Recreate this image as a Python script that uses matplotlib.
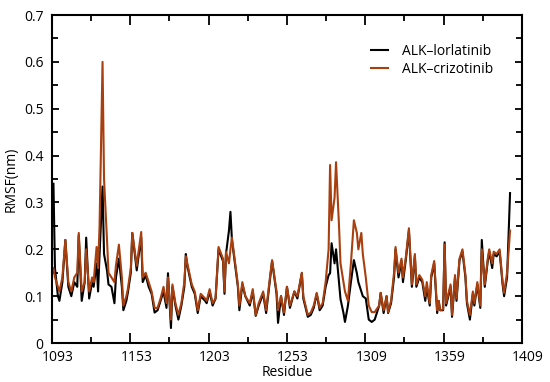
import matplotlib
matplotlib.use("Agg")
import matplotlib.pyplot as plt
import matplotlib.transforms as mtransforms
import numpy as np

# --- donnees ---
residue = [1094, 1095, 1097, 1098, 1100, 1102, 1104, 1106, 1108, 1110,
           1111, 1113, 1115, 1116, 1118, 1120, 1121, 1123, 1124, 1125,
           1127, 1128, 1130, 1131, 1133, 1135, 1136, 1138, 1140, 1141,
           1143, 1144, 1146, 1147, 1150, 1151, 1153, 1154, 1156, 1158,
           1160, 1162, 1164, 1166, 1168, 1170, 1171, 1173, 1174, 1176,
           1178, 1180, 1182, 1183, 1184, 1187, 1189, 1191, 1193, 1196,
           1197, 1199, 1201, 1203, 1205, 1208, 1209, 1210, 1212, 1213,
           1214, 1216, 1218, 1219, 1221, 1223, 1226, 1228, 1230, 1232,
           1235, 1237, 1239, 1241, 1244, 1245, 1247, 1249, 1251, 1253,
           1256, 1258, 1261, 1262, 1265, 1267, 1269, 1271, 1273, 1275,
           1277, 1279, 1280, 1281, 1283, 1284, 1286, 1287, 1289, 1290,
           1292, 1294, 1296, 1298, 1299, 1301, 1302, 1304, 1306, 1308,
           1310, 1313, 1314, 1316, 1318, 1319, 1321, 1323, 1324, 1326,
           1328, 1329, 1331, 1333, 1335, 1337, 1338, 1340, 1342, 1344,
           1345, 1347, 1348, 1350, 1352, 1353, 1354, 1356, 1357, 1358,
           1361, 1362, 1364, 1365, 1367, 1369, 1371, 1372, 1374, 1376,
           1377, 1379, 1381, 1382, 1384, 1386, 1387, 1389, 1390, 1392,
           1394, 1396, 1397, 1399, 1401]

lorlatinib = [0.34, 0.16, 0.10, 0.09, 0.13, 0.22, 0.12, 0.10, 0.13, 0.12,
              0.23, 0.09, 0.13, 0.225, 0.095, 0.13, 0.12, 0.17, 0.11, 0.19,
              0.334, 0.19, 0.155, 0.125, 0.12, 0.085, 0.14, 0.18, 0.12, 0.07,
              0.09, 0.107, 0.15, 0.235, 0.155, 0.18, 0.225, 0.13, 0.145, 0.12,
              0.105, 0.065, 0.07, 0.09, 0.11, 0.075, 0.149, 0.032, 0.12, 0.08,
              0.05, 0.08, 0.12, 0.19, 0.165, 0.12, 0.105, 0.064, 0.10, 0.09,
              0.085, 0.11, 0.08, 0.095, 0.20, 0.175, 0.105, 0.19, 0.24, 0.28,
              0.22, 0.17, 0.12, 0.07, 0.125, 0.10, 0.08, 0.11, 0.058, 0.08,
              0.105, 0.064, 0.12, 0.175, 0.105, 0.043, 0.10, 0.06, 0.12, 0.075,
              0.11, 0.095, 0.149, 0.095, 0.056, 0.06, 0.075, 0.105, 0.07, 0.08,
              0.12, 0.145, 0.149, 0.213, 0.17, 0.20, 0.13, 0.094, 0.064, 0.045,
              0.08, 0.13, 0.177, 0.149, 0.13, 0.11, 0.10, 0.095, 0.05, 0.045,
              0.05, 0.08, 0.107, 0.064, 0.10, 0.064, 0.085, 0.14, 0.20, 0.14,
              0.175, 0.13, 0.18, 0.24, 0.12, 0.185, 0.12, 0.14, 0.13, 0.09,
              0.12, 0.08, 0.14, 0.17, 0.064, 0.09, 0.07, 0.07, 0.215, 0.08,
              0.12, 0.056, 0.14, 0.09, 0.177, 0.195, 0.14, 0.085, 0.05, 0.105,
              0.08, 0.125, 0.075, 0.22, 0.12, 0.175, 0.195, 0.16, 0.19, 0.185,
              0.195, 0.125, 0.10, 0.14, 0.32]

crizotinib = [0.16, 0.14, 0.12, 0.11, 0.14, 0.22, 0.13, 0.11, 0.14, 0.15,
              0.235, 0.11, 0.13, 0.20, 0.11, 0.14, 0.13, 0.205, 0.16, 0.25,
              0.60, 0.35, 0.22, 0.15, 0.14, 0.13, 0.165, 0.21, 0.14, 0.08,
              0.10, 0.115, 0.16, 0.235, 0.165, 0.19, 0.237, 0.14, 0.15, 0.13,
              0.11, 0.075, 0.075, 0.095, 0.12, 0.085, 0.14, 0.05, 0.125, 0.085,
              0.06, 0.085, 0.13, 0.185, 0.17, 0.125, 0.11, 0.07, 0.105, 0.095,
              0.09, 0.115, 0.085, 0.095, 0.205, 0.18, 0.11, 0.195, 0.17, 0.20,
              0.225, 0.175, 0.125, 0.08, 0.13, 0.10, 0.085, 0.115, 0.06, 0.085,
              0.11, 0.07, 0.125, 0.177, 0.11, 0.07, 0.10, 0.065, 0.12, 0.08,
              0.11, 0.10, 0.15, 0.10, 0.06, 0.065, 0.08, 0.107, 0.075, 0.085,
              0.13, 0.20, 0.38, 0.262, 0.31, 0.386, 0.25, 0.17, 0.13, 0.11,
              0.09, 0.17, 0.262, 0.235, 0.20, 0.235, 0.19, 0.14, 0.08, 0.066,
              0.066, 0.08, 0.107, 0.07, 0.10, 0.066, 0.09, 0.15, 0.205, 0.15,
              0.18, 0.14, 0.185, 0.245, 0.125, 0.19, 0.125, 0.145, 0.135, 0.10,
              0.13, 0.085, 0.145, 0.175, 0.07, 0.09, 0.07, 0.072, 0.21, 0.085,
              0.125, 0.06, 0.145, 0.095, 0.18, 0.20, 0.145, 0.09, 0.06, 0.11,
              0.085, 0.13, 0.08, 0.20, 0.125, 0.18, 0.20, 0.17, 0.195, 0.19,
              0.20, 0.13, 0.107, 0.15, 0.24]

tick_labels = ["1093", "1153", "1203", "1253", "1309", "1359", "1409"]

plt.rcParams['font.family'] = ['Open Sans', 'DejaVu Sans']

fig = plt.figure(figsize=(5.5, 3.82), dpi=100)
ax = fig.add_axes([0.0945, 0.102, 0.8545, 0.8586])

ax.plot(residue, lorlatinib, color='black', lw=1.5, label='ALK–lorlatinib')
ax.plot(residue, crizotinib, color='#a83f0f', lw=1.5, label='ALK–crizotinib')

ax.set_xlim(1093, 1409)
ax.set_ylim(0, 0.7)

xt = np.linspace(1093, 1409, 7)
ax.set_xticks(xt)
ax.set_xticklabels(tick_labels)
ax.set_xticks((xt[:-1] + xt[1:]) / 2, minor=True)
ax.set_yticks(np.arange(0, 0.71, 0.1))
ax.set_yticklabels(["0", "0.1", "0.2", "0.3", "0.4", "0.5", "0.6", "0.7"])
ax.set_yticks(np.arange(0.05, 0.7, 0.1), minor=True)

ax.tick_params(axis='both', which='both', direction='in', top=True, right=True,
               labelsize=10, width=1.3, colors='black')
ax.tick_params(axis='x', which='major', length=7, pad=5)
ax.tick_params(axis='x', which='minor', length=4)
ax.tick_params(axis='y', which='major', length=5, pad=6)
ax.tick_params(axis='y', which='minor', length=4)

# petits decalages des etiquettes x comme sur l'original
off = mtransforms.ScaledTranslation(6 / 100, 0, fig.dpi_scale_trans)
for lab in ax.get_xticklabels():
    lab.set_transform(lab.get_transform() + off)

for s in ax.spines.values():
    s.set_linewidth(1.5)

ax.set_xlabel("Residue", fontsize=10, labelpad=0)
ax.set_ylabel("RMSF(nm)", fontsize=10, labelpad=4)

ax.legend(loc='upper right', bbox_to_anchor=(0.965, 0.95), frameon=False,
          fontsize=10, handlelength=1.2, handletextpad=1.0, labelspacing=0.2)

fig.savefig("out.png", dpi=100)
